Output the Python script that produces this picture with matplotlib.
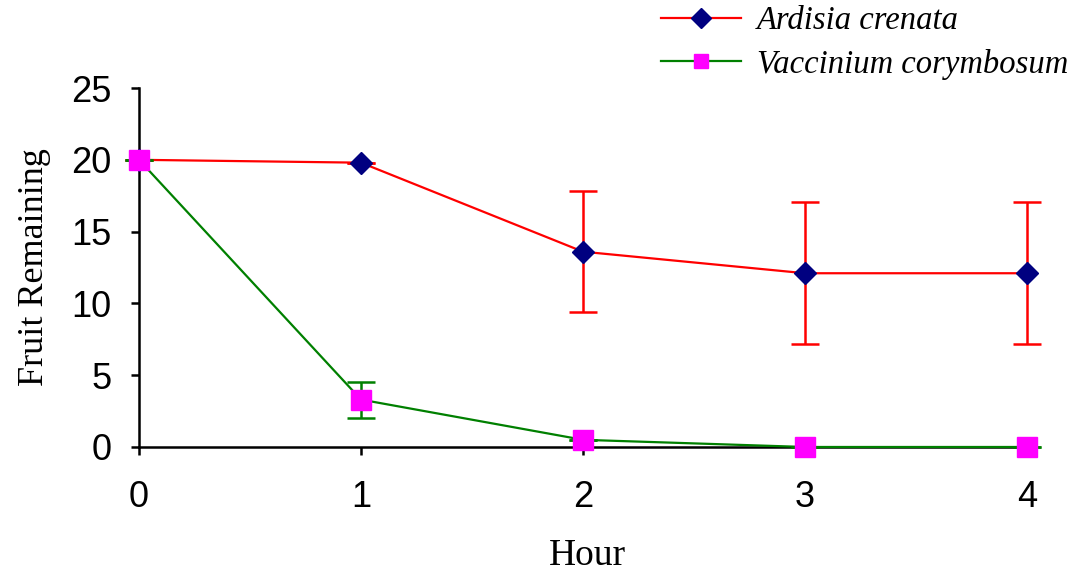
import numpy as np
import matplotlib
matplotlib.use("Agg")
from matplotlib import pyplot as plt
from matplotlib.lines import Line2D

hours = [0, 1, 2, 3, 4]
ardisia = [20.0, 19.8, 13.6, 12.1, 12.1]
ardisia_err = [0, 0, 4.2, 4.95, 4.95]
vaccinium = [20.0, 3.3, 0.5, 0.0, 0.0]
vaccinium_err = [0, 1.25, 0, 0, 0]
y_ticks = [0, 5, 10, 15, 20, 25]


def main():
    fig = plt.figure(figsize=(10.71, 5.79), dpi=100)
    ax = fig.add_axes([0.1298, 0.228, 0.8366, 0.620])

    a_style = dict(color='#ff0000', lw=1.6, marker='D',
                   mfc='#000080', mec='#000080')
    v_style = dict(color='#008000', lw=1.6, marker='s',
                   mfc='#ff00ff', mec='#ff00ff')

    ax.errorbar(hours, ardisia, yerr=ardisia_err, ecolor='#ff0000',
                elinewidth=1.8, capsize=10, capthick=1.8, ms=11,
                clip_on=False, zorder=3, **a_style)
    ax.errorbar(hours, vaccinium, yerr=vaccinium_err, ecolor='#008000',
                elinewidth=1.8, capsize=10, capthick=1.8, ms=14,
                clip_on=False, zorder=4, **v_style)

    ax.set_xlim(0, 4.036)
    ax.set_ylim(0, 25)
    ax.set_xticks(hours)
    ax.set_yticks(y_ticks)
    for s in ['top', 'right']:
        ax.spines[s].set_visible(False)
    for s in ['left', 'bottom']:
        ax.spines[s].set_linewidth(1.8)
    ax.tick_params(axis='both', direction='out', length=6, width=1.8)
    ax.tick_params(axis='x', pad=18)
    ax.tick_params(axis='y', pad=14)
    for lab in ax.get_xticklabels() + ax.get_yticklabels():
        lab.set_fontfamily('Liberation Sans')
        lab.set_fontsize(26)

    ax.set_xlabel('Hour', family='Liberation Serif', fontsize=27, labelpad=17)
    ax.set_ylabel('Fruit Remaining', family='Liberation Serif', fontsize=26, labelpad=14)

    handles = [Line2D([], [], ms=10, **a_style),
               Line2D([], [], ms=10, **v_style)]
    fig.legend(handles, ['Ardisia crenata', 'Vaccinium corymbosum'],
               loc='upper left', bbox_to_anchor=(0.617, 0.99),
               frameon=False, handlelength=2.45, handletextpad=0.5,
               labelspacing=0.38, borderaxespad=0.0, borderpad=0.0,
               prop={'family': 'Liberation Serif', 'style': 'italic', 'size': 23.5})

    fig.savefig('out.png', dpi=100)


main()
